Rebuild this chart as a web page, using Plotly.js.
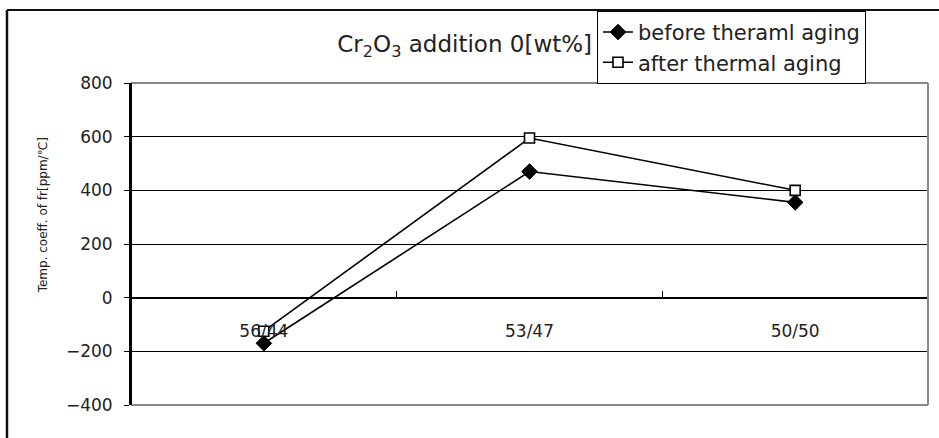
<!DOCTYPE html>
<html>
<head>
<meta charset="utf-8">
<script src="https://cdn.plot.ly/plotly-3.0.1.min.js"></script>
<style>html,body{margin:0;padding:0;background:#fff;}#chart{width:939px;height:438px;}</style>
</head>
<body>
<div id="chart"></div>
<script>
const categories = ["56/44", "53/47", "50/50"];
const beforeAging = [-170, 470, 355];
const afterAging = [-125, 595, 400];
const yTicks = [-400, -200, 0, 200, 400, 600, 800];
const seriesNames = ["before theraml aging", "after thermal aging"];
const titleText = "Cr<sub>2</sub>O<sub>3</sub> addition 0[wt%]";
const yTitleText = "Temp. coeff. of fr[ppm/℃]";

const FONT = "DejaVu Sans, Liberation Sans, sans-serif";

const traces = [
  {
    x: categories, y: beforeAging, name: seriesNames[0], type: "scatter", mode: "lines+markers",
    line: {color: "#000", width: 1.6},
    marker: {symbol: "diamond", size: 12, color: "#000", line: {color: "#000", width: 1}}
  },
  {
    x: categories, y: afterAging, name: seriesNames[1], type: "scatter", mode: "lines+markers",
    line: {color: "#000", width: 1.6},
    marker: {symbol: "square", size: 10, color: "#fff", line: {color: "#000", width: 1.6}}
  }
];

const layout = {
  width: 939, height: 438,
  margin: {l: 131, r: 11, t: 83, b: 33},
  paper_bgcolor: "#fff", plot_bgcolor: "#fff",
  showlegend: true,
  font: {family: FONT, color: "#222"},
  title: {
    text: titleText, font: {family: FONT, size: 23, color: "#222"},
    xref: "paper", x: 0.5785, xanchor: "right",
    yref: "container", y: 0.9, yanchor: "middle"
  },
  legend: {
    x: 0.5847, xanchor: "left", y: 1.224, yanchor: "top",
    bgcolor: "#fff", bordercolor: "#000", borderwidth: 1,
    font: {family: FONT, size: 21, color: "#222"},
    tracegroupgap: 0, itemwidth: 30
  },
  xaxis: {
    type: "category", range: [-0.5, 2.5],
    anchor: "free", position: 1/3,
    showline: true, linecolor: "#000", linewidth: 2,
    ticks: "inside", tickson: "boundaries", ticklen: 6, tickcolor: "#000", tickwidth: 1,
    showgrid: false, zeroline: false,
    ticklabelstandoff: 18,
    tickfont: {family: FONT, size: 17, color: "#222"},
    fixedrange: true
  },
  yaxis: {
    range: [-400, 800], tickvals: yTicks,
    showline: true, linecolor: "#000", linewidth: 2,
    ticks: "outside", ticklen: 5, tickcolor: "#000",
    showgrid: true, gridcolor: "#000", gridwidth: 1,
    zeroline: false,
    tickfont: {family: FONT, size: 17, color: "#222"},
    ticklabelstandoff: 8,
    fixedrange: true
  },
  annotations: [
    {text: yTitleText, xref: "paper", yref: "paper", x: -0.110, y: 0.59,
     textangle: -90, showarrow: false, xanchor: "center", yanchor: "middle",
     font: {family: FONT, size: 12, color: "#222"}}
  ],
  shapes: [
    {type: "line", xref: "paper", yref: "paper", x0: 0, x1: 1, y0: 1, y1: 1, line: {color: "#888", width: 2}, layer: "above"},
    {type: "line", xref: "paper", yref: "paper", x0: 0, x1: 1, y0: 0, y1: 0, line: {color: "#888", width: 2}, layer: "above"},
    {type: "line", xref: "paper", yref: "paper", x0: 1, x1: 1, y0: 0, y1: 1, line: {color: "#888", width: 2}, layer: "above"},
    {type: "line", xref: "paper", yref: "paper", x0: 0, x1: 0, y0: 0, y1: 1, line: {color: "#000", width: 2}, layer: "above"},
    {type: "line", xref: "paper", yref: "paper", x0: -0.1556, x1: 1.03, y0: 1.2267, y1: 1.2267, line: {color: "#111", width: 2}, layer: "above"},
    {type: "line", xref: "paper", yref: "paper", x0: -0.1556, x1: -0.1556, y0: 1.2267, y1: -0.15, line: {color: "#111", width: 2.5}, layer: "above"}
  ]
};

Plotly.newPlot("chart", traces, layout, {displayModeBar: false, staticPlot: true});
</script>
</body>
</html>
